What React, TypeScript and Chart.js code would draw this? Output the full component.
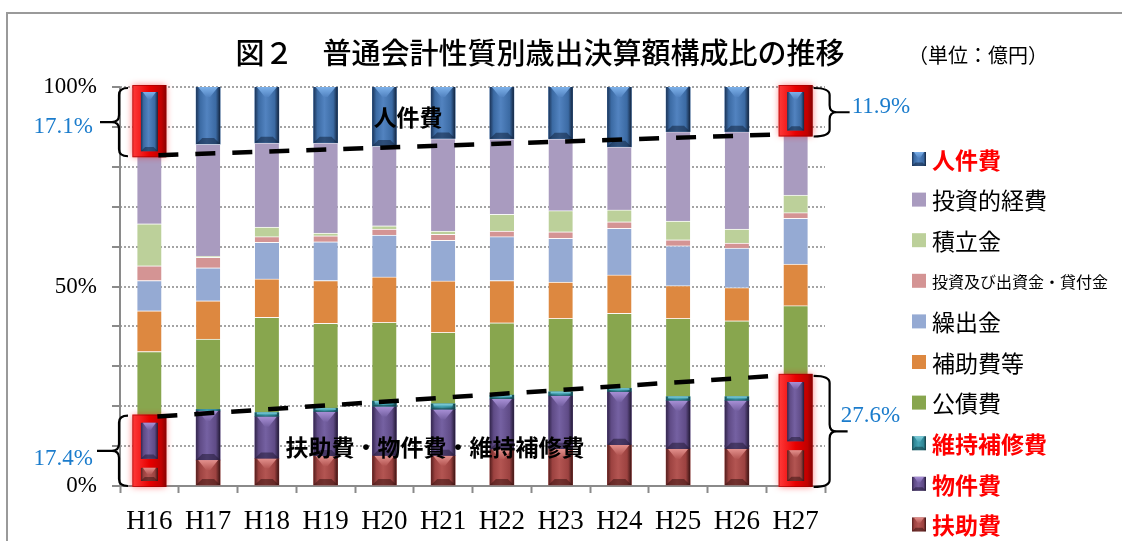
import React, { useEffect, useRef } from 'react';
import { Chart, registerables } from 'chart.js';

Chart.register(...registerables);

// ---------- data ----------
const categories = ['H16', 'H17', 'H18', 'H19', 'H20', 'H21', 'H22', 'H23', 'H24', 'H25', 'H26', 'H27'];

const fujohi = [5.8, 6.5, 6.9, 7.5, 7.6, 7.6, 9.2, 9.3, 10.3, 9.3, 9.3, 10.2];
const bukkenhi = [11.3, 12.3, 10.5, 11.1, 12.3, 11.6, 12.6, 13.3, 13.3, 12.1, 12.1, 17.1];
const ijihoshuhi = [0.3, 0.4, 1.0, 0.9, 1.4, 1.4, 1.0, 1.0, 0.9, 1.0, 1.0, 0.3];
const kosaihi = [16.3, 17.6, 23.9, 21.3, 19.7, 17.9, 18.1, 18.4, 18.8, 19.6, 19.0, 17.6];
const hojohi = [10.2, 9.6, 9.6, 10.7, 11.4, 12.9, 10.6, 9.1, 9.6, 8.2, 8.3, 10.4];
const kuridashikin = [7.6, 8.3, 9.2, 9.7, 10.5, 10.2, 11.0, 11.0, 11.7, 10.0, 9.9, 11.5];
const toushiShusshi = [3.7, 2.6, 1.4, 1.5, 1.5, 1.5, 1.4, 1.6, 1.6, 1.5, 1.3, 1.4];
const tsumitatekin = [10.5, 0.3, 2.4, 0.7, 0.8, 0.8, 4.2, 5.3, 3.0, 4.7, 3.5, 4.4];
const toushitekiKeihi = [17.2, 28.1, 21.1, 22.6, 20.0, 23.2, 18.9, 18.0, 15.8, 22.4, 24.4, 15.2];
const jinkenhi = [17.1, 14.3, 14.0, 14.0, 14.8, 12.9, 13.0, 13.0, 15.0, 11.2, 11.2, 11.9];

const seriesLabels = ['扶助費', '物件費', '維持補修費', '公債費', '補助費等', '繰出金', '投資及び出資金・貸付金', '積立金', '投資的経費', '人件費'];
const seriesData = [fujohi, bukkenhi, ijihoshuhi, kosaihi, hojohi, kuridashikin, toushiShusshi, tsumitatekin, toushitekiKeihi, jinkenhi];
const yLabelValues = [0, 50, 100];

const titleText = '図２　普通会計性質別歳出決算額構成比の推移';
const unitText = '（単位：億円）';
const topNote = '人件費';
const bottomNote = '扶助費・物件費・維持補修費';

// ---------- styles ----------
const seriesColors = ['#9c4240', '#5f4b86', '#2f8796', '#88a64e', '#dd8840', '#95aad3', '#d49494', '#bcd09a', '#a99bbf', '#3b6aa3'];
const legendRed = [true, true, true, false, false, false, false, false, false, true];
const legendSize = [23, 23, 23, 23, 23, 23, 16, 23, 23, 23];

type Pal = { base: string; mid: string; light: string; dark: string; darker: string };
const BEVEL: (Pal | null)[] = [
  { base: '#9c4240', mid: '#b35552', light: '#e3918d', dark: '#561f1e', darker: '#3d1413' },
  { base: '#5f4b86', mid: '#7561a2', light: '#a890d6', dark: '#33264d', darker: '#231a36' },
  { base: '#2f8796', mid: '#44a3b3', light: '#86d0dc', dark: '#1a4f58', darker: '#123a41' },
  null, null, null, null, null, null,
  { base: '#3b6aa3', mid: '#5283c0', light: '#7db1ea', dark: '#1c3559', darker: '#13253f' },
];

const HIGHLIGHTS = [
  { cat: 0, sets: [9] },
  { cat: 0, sets: [0, 1, 2] },
  { cat: 11, sets: [9] },
  { cat: 11, sets: [0, 1, 2] },
];

const JP = "'Noto Sans CJK JP', sans-serif";
const SERIF = "'Liberation Serif', 'Noto Sans CJK JP', serif";
const BLUE_TXT = '#1b7ccc';
const AXIS_GRAY = '#8a8a8a';

function drawBevel(ctx: CanvasRenderingContext2D, x0: number, y0: number, x1: number, y1: number, pal: Pal) {
  const w = x1 - x0;
  const h = y1 - y0;
  if (h <= 0 || w <= 0) return;
  ctx.save();
  const g = ctx.createLinearGradient(x0, 0, x1, 0);
  g.addColorStop(0, pal.dark);
  g.addColorStop(0.16, pal.base);
  g.addColorStop(0.45, pal.mid);
  g.addColorStop(0.82, pal.base);
  g.addColorStop(1, pal.darker);
  ctx.fillStyle = g;
  ctx.fillRect(x0, y0, w, h);
  const d = Math.min(w * 0.42, h / 2);
  if (d > 1.5) {
    const gt = ctx.createLinearGradient(0, y0, 0, y0 + d);
    gt.addColorStop(0, pal.light);
    gt.addColorStop(1, pal.mid);
    ctx.fillStyle = gt;
    ctx.beginPath();
    ctx.moveTo(x0 + 2, y0);
    ctx.lineTo(x1 - 2, y0);
    ctx.lineTo(x1 - d, y0 + d);
    ctx.lineTo(x0 + d, y0 + d);
    ctx.closePath();
    ctx.fill();
    ctx.globalAlpha = 0.55;
    ctx.fillStyle = pal.darker;
    const db = Math.min(d * 0.6, h / 3);
    ctx.beginPath();
    ctx.moveTo(x0, y1);
    ctx.lineTo(x1, y1);
    ctx.lineTo(x1 - db, y1 - db);
    ctx.lineTo(x0 + db, y1 - db);
    ctx.closePath();
    ctx.fill();
  }
  ctx.restore();
}

function isHighlighted(cat: number, di: number) {
  return HIGHLIGHTS.some((h) => h.cat === cat && h.sets.includes(di));
}

const bevelPlugin = {
  id: 'bevelBars',
  beforeDatasetsDraw(chart: any) {
    // solid y axis line (grid lines themselves are dotted)
    const ctx: CanvasRenderingContext2D = chart.ctx;
    const ca = chart.chartArea;
    ctx.save();
    ctx.strokeStyle = AXIS_GRAY;
    ctx.lineWidth = 2;
    ctx.beginPath();
    ctx.moveTo(ca.left, ca.top);
    ctx.lineTo(ca.left, ca.bottom);
    ctx.moveTo(ca.left, ca.bottom);
    ctx.lineTo(ca.right, ca.bottom);
    ctx.stroke();
    ctx.restore();
  },
  afterDatasetsDraw(chart: any) {
    const ctx: CanvasRenderingContext2D = chart.ctx;
    chart.data.datasets.forEach((_ds: any, di: number) => {
      const pal = BEVEL[di];
      if (!pal) return;
      const meta = chart.getDatasetMeta(di);
      meta.data.forEach((el: any, i: number) => {
        if (isHighlighted(i, di)) return;
        const { x, y, base, width } = el.getProps(['x', 'y', 'base', 'width'], true);
        drawBevel(ctx, x - width / 2, Math.min(y, base), x + width / 2, Math.max(y, base), pal);
      });
    });
    HIGHLIGHTS.forEach((hl) => {
      const els = hl.sets.map((di) => chart.getDatasetMeta(di).data[hl.cat]);
      const tops = els.map((e: any) => Math.min(e.y, e.base));
      const bots = els.map((e: any) => Math.max(e.y, e.base));
      const top = Math.min(...tops);
      const bot = Math.max(...bots);
      const x = els[0].x;
      const w = els[0].width;
      const L = x - w / 2 - 5;
      const R = x + w / 2 + 5;
      ctx.save();
      ctx.shadowColor = 'rgba(255,0,0,0.55)';
      ctx.shadowBlur = 7;
      const g = ctx.createLinearGradient(L, 0, R, 0);
      g.addColorStop(0, '#ff3a3a');
      g.addColorStop(0.5, '#e80000');
      g.addColorStop(0.85, '#c00000');
      g.addColorStop(1, '#880000');
      ctx.fillStyle = g;
      ctx.fillRect(L, top - 2, R - L, bot - top + 4);
      ctx.restore();
      ctx.save();
      ctx.strokeStyle = 'rgba(150,0,0,0.6)';
      ctx.lineWidth = 1;
      ctx.strokeRect(L + 0.5, top - 1.5, R - L - 1, bot - top + 3);
      ctx.restore();
      els.forEach((e: any, k: number) => {
        const pal = BEVEL[hl.sets[k]];
        const y0 = tops[k];
        const y1 = bots[k];
        if (!pal || y1 - y0 < 10) return;
        drawBevel(ctx, x - 8.5, y0 + 5, x + 8.5, y1 - 4, pal);
      });
    });
  },
};

function drawBrace(ctx: CanvasRenderingContext2D, x: number, y0: number, y1: number, dir: number, hook: number, tip: number) {
  const ym = (y0 + y1) / 2;
  const r = 7;
  ctx.beginPath();
  ctx.moveTo(x - dir * hook, y0);
  ctx.quadraticCurveTo(x, y0, x, y0 + r);
  ctx.lineTo(x, ym - r);
  ctx.quadraticCurveTo(x, ym, x + dir * r, ym);
  ctx.lineTo(x + dir * tip, ym);
  ctx.moveTo(x + dir * r, ym);
  ctx.quadraticCurveTo(x, ym, x, ym + r);
  ctx.lineTo(x, y1 - r);
  ctx.quadraticCurveTo(x, y1, x - dir * hook, y1);
  ctx.stroke();
}

const annotatePlugin = {
  id: 'annotate',
  beforeDraw(chart: any) {
    const ctx: CanvasRenderingContext2D = chart.ctx;
    ctx.save();
    ctx.fillStyle = '#ffffff';
    ctx.fillRect(0, 0, chart.width, chart.height);
    ctx.strokeStyle = '#9a9a9a';
    ctx.lineWidth = 2;
    ctx.beginPath();
    ctx.moveTo(7, chart.height);
    ctx.lineTo(7, 13);
    ctx.lineTo(chart.width, 13);
    ctx.stroke();
    ctx.restore();
  },
  afterDraw(chart: any) {
    const ctx: CanvasRenderingContext2D = chart.ctx;
    const xs = chart.scales.x;
    const ys = chart.scales.y;
    const ca = chart.chartArea;
    const last = categories.length - 1;
    const xA = xs.getPixelForValue(0);
    const xB = xs.getPixelForValue(last);
    const topA = 100 - jinkenhi[0];
    const topB = 100 - jinkenhi[last];
    const botA = fujohi[0] + bukkenhi[0] + ijihoshuhi[0];
    const botB = fujohi[last] + bukkenhi[last] + ijihoshuhi[last];

    ctx.save();
    // title
    ctx.fillStyle = '#000';
    ctx.textBaseline = 'middle';
    ctx.textAlign = 'center';
    ctx.font = `500 29px ${JP}`;
    ctx.fillText(titleText, 540, 53);
    ctx.font = `20px ${JP}`;
    ctx.textAlign = 'left';
    ctx.fillText(unitText, 908, 55);

    // dashed lines
    ctx.strokeStyle = '#000';
    ctx.lineWidth = 4.5;
    ctx.setLineDash([20, 17]);
    ctx.beginPath();
    ctx.moveTo(xA + 9, ys.getPixelForValue(topA));
    ctx.lineTo(xB - 21, ys.getPixelForValue(topB));
    ctx.moveTo(xA + 8, ys.getPixelForValue(botA));
    ctx.lineTo(xB - 21, ys.getPixelForValue(botB));
    ctx.stroke();
    ctx.setLineDash([]);

    // braces
    ctx.lineWidth = 2.2;
    const lx = ca.left - 1;
    drawBrace(ctx, lx, ys.getPixelForValue(100) + 1, ys.getPixelForValue(topA) + 1, -1, 9, 19);
    drawBrace(ctx, lx, ys.getPixelForValue(botA) - 1, ys.getPixelForValue(0), -1, 9, 22);
    const rx = xB + 34;
    drawBrace(ctx, rx, ys.getPixelForValue(100) + 1, ys.getPixelForValue(topB) + 2, 1, 16, 20);
    drawBrace(ctx, rx, ys.getPixelForValue(botB), ys.getPixelForValue(0) + 1, 1, 16, 18);

    // percentage labels
    ctx.fillStyle = BLUE_TXT;
    ctx.font = `23px ${SERIF}`;
    ctx.textAlign = 'right';
    const midTA = (ys.getPixelForValue(100) + ys.getPixelForValue(topA)) / 2;
    const midBA = (ys.getPixelForValue(botA) + ys.getPixelForValue(0)) / 2;
    ctx.fillText(jinkenhi[0].toFixed(1) + '%', ca.left - 27, midTA + 6);
    ctx.fillText(botA.toFixed(1) + '%', ca.left - 27, midBA + 8);
    ctx.textAlign = 'left';
    const midTB = (ys.getPixelForValue(100) + ys.getPixelForValue(topB)) / 2;
    const midBB = (ys.getPixelForValue(botB) + ys.getPixelForValue(0)) / 2;
    ctx.fillText(jinkenhi[last].toFixed(1) + '%', xB + 56, midTB - 4);
    ctx.fillText(botB.toFixed(1) + '%', xB + 45, midBB - 15);

    // notes
    ctx.fillStyle = '#000';
    ctx.font = `bold 23px ${JP}`;
    ctx.textAlign = 'center';
    ctx.fillText(topNote, xs.getPixelForValue(4.4), ys.getPixelForValue(92.3));
    ctx.fillText(bottomNote, xs.getPixelForValue(4.86), ys.getPixelForValue(9.8));

    // legend
    const legX = ca.right + 87;
    const legTop = 159;
    const step = 40.6;
    const order = seriesLabels.map((_, i) => i).reverse();
    order.forEach((di, k) => {
      const y = legTop + k * step;
      const pal = BEVEL[di];
      if (pal) {
        drawBevel(ctx, legX, y - 7, legX + 14, y + 7, pal);
      } else {
        ctx.fillStyle = seriesColors[di];
        ctx.fillRect(legX, y - 7, 14, 14);
      }
      ctx.fillStyle = legendRed[di] ? '#ff0000' : '#000';
      ctx.font = `${legendRed[di] ? 'bold ' : ''}${legendSize[di]}px ${JP}`;
      ctx.textAlign = 'left';
      ctx.textBaseline = 'middle';
      ctx.fillText(seriesLabels[di], legX + 20, y + 1);
    });
    ctx.restore();
  },
};

export default function App() {
  const canvasRef = useRef<HTMLCanvasElement | null>(null);

  useEffect(() => {
    if (!canvasRef.current) return;
    const datasets = seriesData.map((data, i) => ({
      label: seriesLabels[i],
      data,
      backgroundColor: seriesColors[i],
      borderColor: 'rgba(255,255,255,0.55)',
      borderWidth: BEVEL[i] ? 0 : { top: 1, bottom: 0, left: 0, right: 0 },
      borderSkipped: false as const,
      barThickness: 24,
    }));
    const chart = new Chart(canvasRef.current, {
      type: 'bar',
      data: { labels: categories, datasets },
      options: {
        animation: false,
        responsive: false,
        devicePixelRatio: 1,
        layout: { padding: { left: 0, right: 297, top: 87, bottom: 0 } },
        plugins: {
          legend: { display: false },
          tooltip: { enabled: false },
          title: { display: false },
        },
        scales: {
          x: {
            stacked: true,
            offset: true,
            afterFit: (s: any) => {
              s.height = 55;
            },
            grid: {
              display: true,
              drawOnChartArea: false,
              drawTicks: true,
              offset: true,
              tickLength: 7,
              tickColor: AXIS_GRAY,
              tickWidth: 2,
            },
            border: { display: false },
            ticks: {
              color: '#000',
              font: { family: SERIF, size: 27 },
              padding: 13,
              maxRotation: 0,
              autoSkip: false,
            },
          },
          y: {
            stacked: true,
            min: 0,
            max: 100,
            afterFit: (s: any) => {
              s.width = 120;
            },
            grid: {
              color: '#a4a4a4',
              lineWidth: 2,
              tickBorderDash: [],
              tickColor: AXIS_GRAY,
              tickWidth: 2,
              tickLength: 8,
            },
            border: { display: false, dash: [2, 2] },
            ticks: {
              stepSize: 10,
              color: '#000',
              font: { family: SERIF, size: 23 },
              padding: 15,
              callback: (v: any) => (yLabelValues.includes(Number(v)) ? `${v}%` : ''),
            },
          },
        },
      },
      plugins: [bevelPlugin, annotatePlugin],
    } as any);
    return () => chart.destroy();
  }, []);

  return (
    <div style={{ position: 'fixed', left: 0, top: 0, width: 1122, height: 541, background: '#fff' }}>
      <canvas ref={canvasRef} width={1122} height={541} style={{ display: 'block', width: 1122, height: 541 }} />
    </div>
  );
}
